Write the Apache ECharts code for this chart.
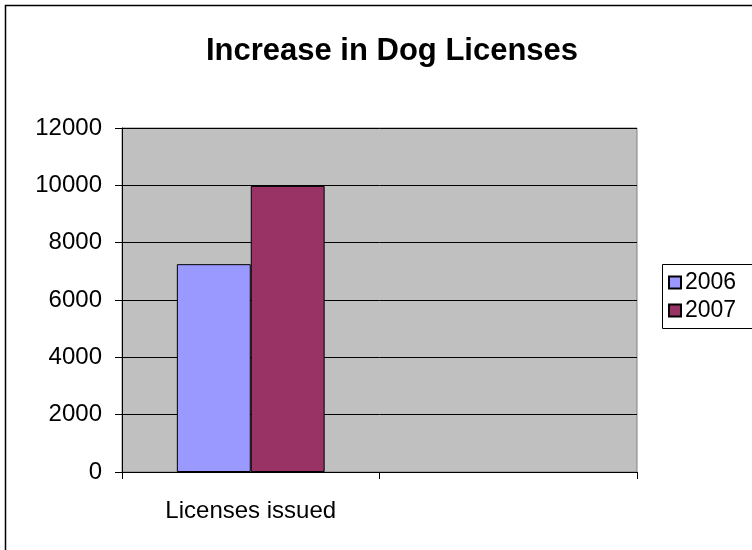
<!DOCTYPE html>
<html><head><meta charset="utf-8">
<script src="https://cdn.jsdelivr.net/npm/echarts@6/dist/echarts.min.js"></script>
<style>html,body{margin:0;padding:0;background:#fff}#c{width:752px;height:550px}</style>
</head><body><div id="c"></div>
<script>
const categories = ['Licenses issued', ''];
const seriesNames = ['2006', '2007'];
const values2006 = [7250, null];
const values2007 = [9980, null];
const yTicks = [0, 2000, 4000, 6000, 8000, 10000, 12000];

const font = 'Liberation Sans, Arial, sans-serif';
const chart = echarts.init(document.getElementById('c'));
chart.setOption({
  animation: false,
  backgroundColor: '#fff',
  title: {
    text: 'Increase in Dog Licenses', left: 387, top: 31, textAlign: 'center',
    textStyle: { fontFamily: font, fontSize: 31, fontWeight: 'bold', color: '#000' }
  },
  graphic: [
    { type: 'rect', shape: { x: 5.5, y: 5.5, width: 800, height: 600 }, style: { fill: 'none', stroke: '#000', lineWidth: 1.5 }, z: -1 },
    { type: 'rect', shape: { x: 662.5, y: 264.5, width: 100, height: 64 }, style: { fill: '#fff', stroke: '#000', lineWidth: 1 }, z: -1 }
  ],
  legend: {
    orient: 'vertical', left: 668, top: 271, itemGap: 5, padding: 0,
    itemWidth: 12, itemHeight: 12, icon: 'rect',
    textStyle: { fontFamily: font, fontSize: 23, color: '#000', padding: [0,0,0,-1] },
    data: seriesNames
  },
  grid: { left: 122, top: 128, right: 115, bottom: 78, show: true, backgroundColor: '#C0C0C0', borderColor: '#808080', borderWidth: 1 },
  xAxis: {
    type: 'category', data: categories, boundaryGap: true,
    axisLine: { lineStyle: { color: '#000', width: 1 } },
    axisTick: { show: true, alignWithLabel: false, length: 7, lineStyle: { color: '#000' } },
    axisLabel: { fontFamily: font, fontSize: 24, color: '#000', margin: 27 }
  },
  yAxis: {
    type: 'value', min: 0, max: 12000, interval: 2000,
    axisLine: { show: true, lineStyle: { color: '#000', width: 1 } },
    axisTick: { show: true, length: 7, lineStyle: { color: '#000' } },
    axisLabel: { fontFamily: font, fontSize: 24, color: '#000', margin: 20,
      formatter: v => yTicks.includes(v) ? String(v) : '' },
    splitLine: { show: true, lineStyle: { color: '#000', width: 1 } }
  },
  series: [
    { name: seriesNames[0], type: 'bar', data: values2006, barWidth: '28.7%', barGap: '0%',
      itemStyle: { color: '#9999FF', borderColor: '#000', borderWidth: 1 } },
    { name: seriesNames[1], type: 'bar', data: values2007, barWidth: '28.7%', barGap: '0%',
      itemStyle: { color: '#993366', borderColor: '#000', borderWidth: 1 } }
  ]
});
</script></body></html>
